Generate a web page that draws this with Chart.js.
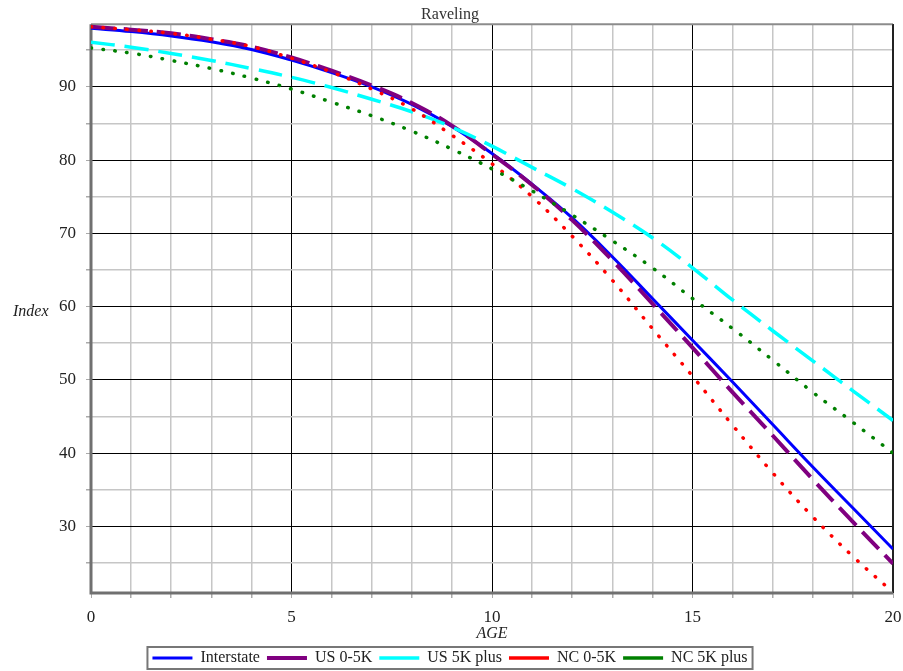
<!DOCTYPE html>
<html>
<head>
<meta charset="utf-8">
<script src="https://cdn.jsdelivr.net/npm/chart.js@4/dist/chart.umd.min.js"></script>
<style>
  html, body { margin: 0; padding: 0; background: #fff; }
  #c { display: block; }
</style>
</head>
<body>
<canvas id="c" width="903" height="671"></canvas>
<script>
const ages = [0,1,2,3,4,5,6,7,8,9,10,11,12,13,14,15,16,17,18,19,20];
const interstate = [98.0, 97.55, 96.95, 96.15, 95.1, 93.65, 91.95, 90.0, 87.6, 84.6, 80.9, 76.7, 72.1, 66.8, 61.1, 55.4, 49.7, 43.9, 38.1, 32.5, 26.9];
const us05k = [98.2, 97.8, 97.3, 96.5, 95.5, 94.0, 92.2, 90.2, 87.8, 84.7, 80.8, 76.6, 71.8, 66.3, 60.4, 54.4, 48.3, 42.4, 36.4, 30.6, 24.9];
const us5kPlus = [96.1, 95.4, 94.55, 93.6, 92.5, 91.3, 89.9, 88.3, 86.6, 84.5, 81.9, 79.0, 76.1, 72.9, 69.4, 65.3, 60.9, 56.7, 52.6, 48.5, 44.45];
const nc05k = [98.2, 97.8, 97.3, 96.5, 95.5, 93.9, 92.0, 89.7, 87.0, 83.4, 79.5, 75.0, 69.6, 63.6, 57.0, 50.5, 43.8, 37.3, 31.3, 25.9, 21.0];
const nc5kPlus = [95.3, 94.6, 93.6, 92.5, 91.2, 89.7, 87.9, 86.05, 83.95, 81.5, 78.8, 75.8, 72.5, 69.0, 65.3, 61.1, 57.0, 52.7, 48.3, 44.2, 40.0];
const seriesNames = ['Interstate', 'US 0-5K', 'US 5K plus', 'NC 0-5K', 'NC 5K plus'];
const yTickValues = [25, 30, 35, 40, 45, 50, 55, 60, 65, 70, 75, 80, 85, 90, 95];
const chartTitle = 'Raveling';
const xTitle = 'AGE';
const yTitle = 'Index';

const SERIF = '"Liberation Serif", "Times New Roman", serif';
Chart.defaults.font.family = SERIF;
Chart.defaults.color = '#222';

const toPts = vals => ages.map((a, i) => ({ x: a, y: vals[i] }));

const frameAndLabels = {
  id: 'frameAndLabels',
  beforeDatasetsDraw(chart) {
    const { ctx, chartArea: a } = chart;
    ctx.save();
    ctx.lineCap = 'butt';
    ctx.strokeStyle = '#8c8c8c'; ctx.lineWidth = 2;
    ctx.beginPath(); ctx.moveTo(a.left, a.top); ctx.lineTo(a.right, a.top); ctx.stroke();
    ctx.strokeStyle = '#222'; ctx.lineWidth = 2;
    ctx.beginPath(); ctx.moveTo(a.right, a.top); ctx.lineTo(a.right, a.bottom); ctx.stroke();
    ctx.strokeStyle = '#707070'; ctx.lineWidth = 3;
    ctx.beginPath(); ctx.moveTo(a.left, a.top); ctx.lineTo(a.left, a.bottom); ctx.lineTo(a.right, a.bottom); ctx.stroke();
    ctx.restore();
  },
  afterDraw(chart) {
    const { ctx, chartArea: a } = chart;
    ctx.save();
    ctx.font = 'italic 16px ' + SERIF;
    ctx.fillStyle = '#222';
    ctx.textAlign = 'left';
    ctx.textBaseline = 'middle';
    ctx.fillText(yTitle, 13, (a.top + a.bottom) / 2 + 3);
    const lg = chart.legend;
    if (lg && lg.legendHitBoxes && lg.legendHitBoxes.length) {
      const hb = lg.legendHitBoxes;
      let l = Infinity, r = -Infinity, t = Infinity, b = -Infinity;
      hb.forEach(h => { l = Math.min(l, h.left); r = Math.max(r, h.left + h.width); t = Math.min(t, h.top); b = Math.max(b, h.top + h.height); });
      ctx.strokeStyle = '#777'; ctx.lineWidth = 2;
      ctx.strokeRect(l - 5, t - 3, (r - l) + 10, (b - t) + 6);
    }
    ctx.restore();
  }
};

new Chart(document.getElementById('c'), {
  type: 'line',
  data: {
    datasets: [
      { label: seriesNames[0], data: toPts(interstate), borderColor: '#0000ff', backgroundColor: '#0000ff', borderWidth: 3, order: 5 },
      { label: seriesNames[1], data: toPts(us05k), borderColor: '#800080', backgroundColor: '#800080', borderWidth: 4, borderDash: [24, 9], order: 4 },
      { label: seriesNames[2], data: toPts(us5kPlus), borderColor: '#00ffff', backgroundColor: '#00ffff', borderWidth: 3.5, borderDash: [24, 10], order: 3 },
      { label: seriesNames[3], data: toPts(nc05k), borderColor: '#ff0000', backgroundColor: '#ff0000', borderWidth: 3.5, borderDash: [0.5, 11.5], borderCapStyle: 'round', order: 2 },
      { label: seriesNames[4], data: toPts(nc5kPlus), borderColor: '#008000', backgroundColor: '#008000', borderWidth: 3.5, borderDash: [0.5, 11.5], borderCapStyle: 'round', order: 1 }
    ]
  },
  options: {
    responsive: false,
    animation: false,
    devicePixelRatio: 1,
    layout: { padding: { left: 7, right: 10, top: 5, bottom: -5 } },
    elements: { point: { radius: 0 }, line: { tension: 0.4, fill: false } },
    plugins: {
      title: { display: true, text: chartTitle, font: { size: 16, weight: 'normal' }, color: '#333', padding: { top: 0, bottom: 0 } },
      legend: {
        position: 'bottom',
        labels: {
          usePointStyle: true, pointStyle: 'line', pointStyleWidth: 40,
          font: { size: 16 }, color: '#222', padding: 7,
          sort: (a, b) => a.datasetIndex - b.datasetIndex
        }
      },
      tooltip: { enabled: false }
    },
    scales: {
      x: {
        type: 'linear', min: 0, max: 20,
        afterFit: s => { s.height = 50; s.paddingRight = 0; s.paddingLeft = 0; },
        ticks: { stepSize: 1, autoSkip: false, maxRotation: 0, font: { size: 17 }, color: '#222', padding: 9,
          callback: v => (v % 5 === 0 ? String(v) : '') },
        grid: {
          tickLength: 5, tickColor: '#aaa',
          color: c => (c.tick && c.tick.value % 5 === 0 ? '#000' : '#c6c6c6'),
          lineWidth: c => (c.tick && c.tick.value % 5 === 0 ? 1 : 1.5)
        },
        border: { display: false },
        title: { display: true, text: xTitle, font: { size: 16, style: 'italic' }, color: '#222', padding: { top: 0, bottom: 0 } }
      },
      y: {
        type: 'linear', min: 20.9, max: 98.55,
        afterFit: s => { s.width = 84; },
        afterBuildTicks: s => { s.ticks = yTickValues.map(v => ({ value: v })); },
        ticks: { font: { size: 17 }, color: '#222', padding: 10,
          callback: v => (v % 10 === 0 ? String(v) : '') },
        grid: {
          tickLength: 5, tickColor: '#aaa',
          color: c => (c.tick && c.tick.value % 10 === 0 ? '#000' : '#c6c6c6'),
          lineWidth: c => (c.tick && c.tick.value % 10 === 0 ? 1 : 1.5)
        },
        border: { display: false }
      }
    }
  },
  plugins: [frameAndLabels]
});
</script>
</body>
</html>
